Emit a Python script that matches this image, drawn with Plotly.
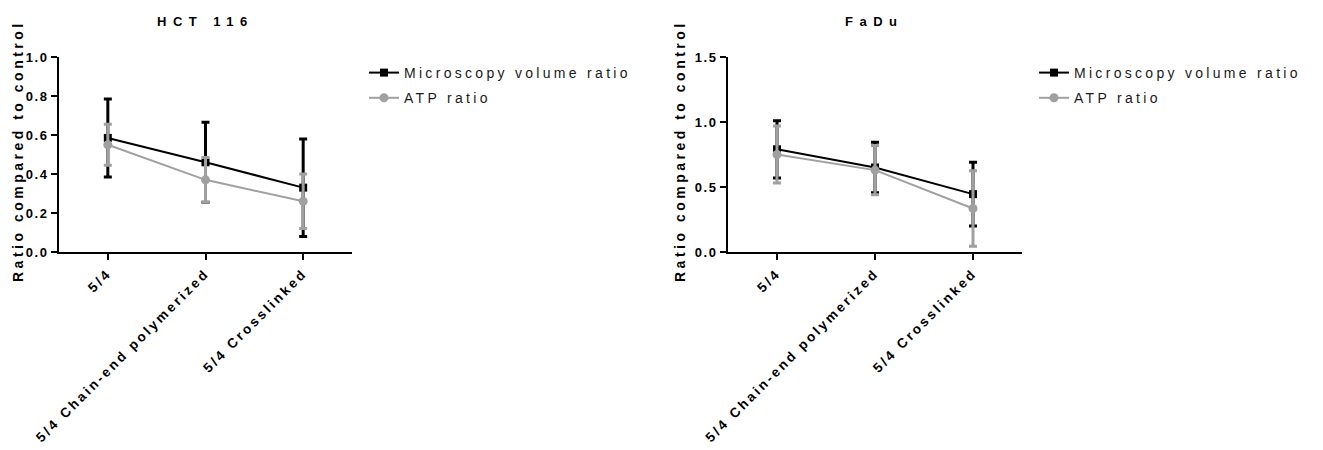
import plotly.graph_objects as go

# ---------------- data ----------------
categories = ["5/4", "5/4 Chain-end polymerized", "5/4 Crosslinked"]
series_names = ["Microscopy volume ratio", "ATP ratio"]
panel_titles = ["HCT 116", "FaDu"]
y_title = "Ratio compared to control"

hct_micro_mean = [0.585, 0.46, 0.33]
hct_micro_err = [0.20, 0.205, 0.25]
hct_atp_mean = [0.55, 0.37, 0.26]
hct_atp_err = [0.105, 0.115, 0.14]

fadu_micro_mean = [0.79, 0.65, 0.445]
fadu_micro_err = [0.22, 0.195, 0.245]
fadu_atp_mean = [0.75, 0.63, 0.335]
fadu_atp_err = [0.22, 0.19, 0.29]

hct_yticks = [0.0, 0.2, 0.4, 0.6, 0.8, 1.0]
fadu_yticks = [0.0, 0.5, 1.0, 1.5]

# ---------------- style ----------------
W, H = 1323, 450
O = 8  # default page body margin
FW, FH = W - O, H - O
FONT = "Liberation Sans, Arial, sans-serif"
BLACK = "#000000"
GRAY = "#A0A0A0"


def fx(p):
    return (p - O) / FW


def fy(p):
    return 1 - (p - O) / FH


def ls(t, px):
    return f'<span style="letter-spacing:{px}px">{t}</span>'


fig = go.Figure()

panels = [
    ("x", "y", "legend", hct_micro_mean, hct_micro_err, hct_atp_mean, hct_atp_err),
    ("x2", "y2", "legend2", fadu_micro_mean, fadu_micro_err, fadu_atp_mean, fadu_atp_err),
]

for i, (xa, ya, leg, mm, me, am, ae) in enumerate(panels):
    fig.add_trace(go.Scatter(
        x=categories, y=mm, xaxis=xa, yaxis=ya, legend=leg,
        legendgroup=f"m{i}",
        name=ls(series_names[0], 3.3), mode="lines+markers",
        line=dict(color=BLACK, width=2),
        marker=dict(symbol="square", size=8, color=BLACK),
        error_y=dict(type="data", array=me, symmetric=True, color=BLACK,
                     thickness=3, width=4),
    ))
    fig.add_trace(go.Scatter(
        x=categories, y=am, xaxis=xa, yaxis=ya, legend=leg,
        legendgroup=f"a{i}",
        name=ls(series_names[1], 3.3), mode="lines+markers",
        line=dict(color=GRAY, width=2),
        marker=dict(symbol="circle", size=9, color=GRAY),
        error_y=dict(type="data", array=ae, symmetric=True, color=GRAY,
                     thickness=3, width=4),
    ))

ydom = [fy(252), fy(57)]

xcommon = dict(
    type="category", range=[-0.5, 2.5], showgrid=False, zeroline=False,
    showline=True, linecolor=BLACK, linewidth=2,
    ticks="outside", ticklen=6, tickwidth=2, tickcolor=BLACK,
    tickangle=-45, tickvals=categories,
    ticktext=[ls(c, 2.7) for c in categories],
    tickfont=dict(family=FONT, size=13.5, color=BLACK, weight="bold"),
    automargin=False,
)
ycommon = dict(
    showgrid=False, zeroline=False,
    showline=True, linecolor=BLACK, linewidth=2,
    ticks="outside", ticklen=6, tickwidth=2, tickcolor=BLACK,
    tickfont=dict(family=FONT, size=13, color=BLACK, weight="bold"),
    automargin=False, domain=ydom,
)

fig.update_layout(
    xaxis=dict(xcommon, domain=[fx(59), fx(352)], anchor="y"),
    xaxis2=dict(xcommon, domain=[fx(728), fx(1022)], anchor="y2"),
    yaxis=dict(ycommon, anchor="x", range=[0, 1.0], tickvals=hct_yticks,
               ticktext=[ls(f"{v:.1f}", 1.5) for v in hct_yticks]),
    yaxis2=dict(ycommon, anchor="x2", range=[0, 1.5], tickvals=fadu_yticks,
                ticktext=[ls(f"{v:.1f}", 1.5) for v in fadu_yticks]),
)

legcommon = dict(
    xanchor="left", yanchor="top", bgcolor="rgba(0,0,0,0)",
    font=dict(family=FONT, size=14, color="#1a1a1a"),
    itemwidth=30, tracegroupgap=4, itemclick=False,
)
fig.update_layout(
    legend=dict(legcommon, x=fx(364), y=fy(57)),
    legend2=dict(legcommon, x=fx(1034), y=fy(57)),
)

# panel titles and y-axis titles
for xc, title in zip([205.5, 875], panel_titles):
    fig.add_annotation(
        x=fx(xc), y=fy(21), xref="paper", yref="paper",
        text=f"<b>{ls(title, 6.5)}</b>", showarrow=False,
        xanchor="center", yanchor="middle",
        font=dict(family=FONT, size=13, color=BLACK),
    )
for xc in [18, 680]:
    fig.add_annotation(
        x=fx(xc), y=fy(151), xref="paper", yref="paper",
        text=f"<b>{ls(y_title, 3.5)}</b>", showarrow=False, textangle=-90,
        xanchor="center", yanchor="middle",
        font=dict(family=FONT, size=14, color=BLACK),
    )

fig.update_layout(
    width=FW, height=FH, margin=dict(l=0, r=0, t=0, b=0),
    paper_bgcolor="white", plot_bgcolor="white",
    template="none",
)

fig.write_html("out.html")
